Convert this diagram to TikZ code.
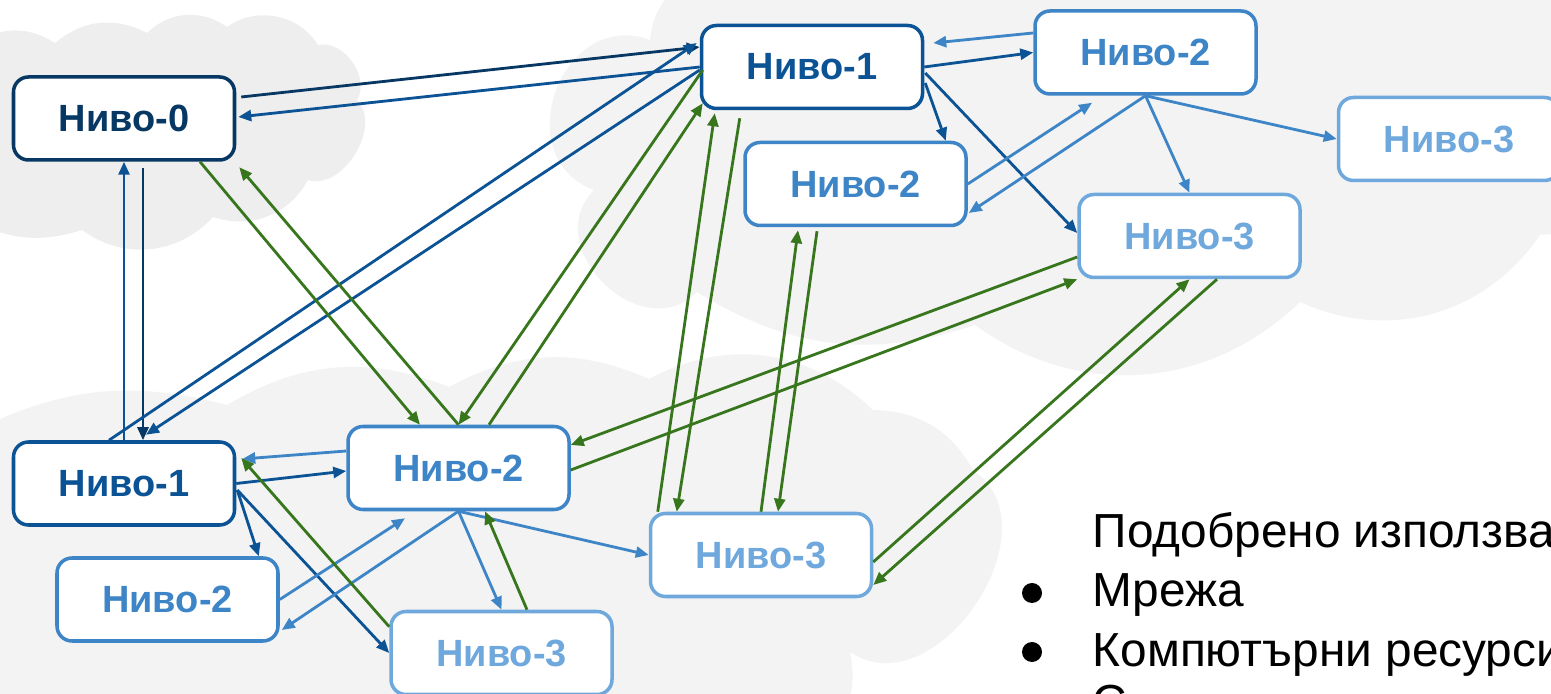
\documentclass[tikz,border=0pt]{standalone}
\usepackage{fontspec}
\setmainfont{Liberation Sans}
\usepackage{tikz}
\usepackage{xcolor}
\usetikzlibrary{shapes,arrows.meta,positioning,calc}

\definecolor{navy}{HTML}{073763}
\definecolor{blueA}{HTML}{0B5394}
\definecolor{blueB}{HTML}{3D85C6}
\definecolor{blueC}{HTML}{6FA8DC}
\definecolor{leaf}{HTML}{38761D}
\definecolor{cloudA}{HTML}{EEEEEE}
\definecolor{cloudB}{HTML}{F3F3F3}

\begin{document}
\begin{tikzpicture}[
          lvl/.style={rectangle, draw, fill=white, line width=1pt, rounded corners=0.15cm, minimum width=2.21cm, minimum height=0.83cm, font=\bfseries\fontsize{10.8}{13}\selectfont},
          lvlzero/.style={lvl, draw=navy, text=navy},
          lvlone/.style={lvl, draw=blueA, text=blueA},
          lvltwo/.style={lvl, draw=blueB, text=blueB},
          lvlthree/.style={lvl, draw=blueC, text=blueC},
          arrow/.style={-{Triangle[length=1.3mm,width=1.1mm]}, line width=0.8pt},
          txt/.style={font=\fontsize{13.6}{16}\selectfont, anchor=base west, inner sep=0},
          dot/.style={circle, fill=black, inner sep=0, minimum size=0.2cm}
        ]
          \useasboundingbox (0,0) rectangle (15.51,-6.94);
          \clip (0,0) rectangle (15.51,-6.94);

          % Clouds
          \fill[cloudA] (-0.2,-0.40) to[bend left=30] (0.55,-0.43) to[bend left=34] (1.47,-0.33)
            to[bend left=40] (2.27,-0.27) to[bend left=47] (3.18,-0.45) to[bend left=67] (3.57,-1.00)
            to[bend left=76] (3.08,-1.80) to[bend left=40] (2.13,-2.17) to[bend left=42] (0.82,-2.30)
            to[bend left=20] (-0.2,-2.25) -- cycle;
          \fill[cloudB] (7.2,0.3) -- (15.8,0.3) -- (15.8,-2.32) -- (15.40,-2.35)
            to[bend left=40] (13.00,-3.02) to[bend left=40] (9.75,-3.25) to[bend left=25] (6.97,-2.92)
            to[bend left=90, looseness=1.4] (5.94,-1.90) to[bend left=90, looseness=1.5] (6.50,-0.40)
            to[bend left=40] (7.2,0.3) -- cycle;
          \fill[cloudB] (-0.2,-4.28) to[bend left=20] (2.27,-4.05) to[bend left=26] (4.49,-3.87)
            to[bend left=26] (6.49,-3.79) to[bend left=36] (8.73,-4.10) to[bend left=30] (9.73,-4.70)
            to[bend left=90, looseness=1.2] (8.50,-6.52) to[bend left=20] (8.40,-7.2) -- (-0.2,-7.2) -- cycle;

          % Levels
          \node[lvlzero] (L0) at (1.24,-1.185) {Ниво-0};
          \node[lvlone] (T1) at (8.12,-0.67) {Ниво-1};
          \node[lvltwo] (T2a) at (11.455,-0.525) {Ниво-2};
          \node[lvltwo] (T2b) at (8.555,-1.84) {Ниво-2};
          \node[lvlthree] (T3a) at (14.49,-1.39) {Ниво-3};
          \node[lvlthree] (T3b) at (11.895,-2.36) {Ниво-3};
          \node[lvlone] (B1) at (1.24,-4.835) {Ниво-1};
          \node[lvltwo] (B2a) at (4.585,-4.68) {Ниво-2};
          \node[lvltwo] (B2b) at (1.675,-5.995) {Ниво-2};
          \node[lvlthree] (B3a) at (5.015,-6.53) {Ниво-3};
          \node[lvlthree] (B3b) at (7.61,-5.55) {Ниво-3};

          % Level 0 links
          \draw[arrow, navy] ([shift={(0.05,0.215)}]L0.east) -- ([yshift=0.2cm]T1.west);
          \draw[arrow, blueA] (T1.west) -- ([shift={(0.02,0.015)}]L0.east);
          \draw[arrow, blueA] (B1.north) -- (L0.south);
          \draw[arrow, navy] ([shift={(0.19,-0.065)}]L0.south) -- ([xshift=0.19cm]B1.north);
          \draw[arrow, blueA] ([xshift=-0.15cm]B1.north) -- ([shift={(-0.03,0.24)}]T1.west);
          \draw[arrow, blueA] ([yshift=-0.03cm]T1.west) -- ([shift={(0.22,0.055)}]B1.north);

          % Upper cluster
          \draw[arrow, blueA] (T1.east) -- (T2a.west);
          \draw[arrow, blueB] ([yshift=0.195cm]T2a.west) -- ([shift={(0.09,0.24)}]T1.east);
          \draw[arrow, blueA] ([shift={(0.01,-0.16)}]T1.east) -- ([xshift=-0.22cm]T2b.north east);
          \draw[arrow, blueA] ([shift={(0.01,-0.06)}]T1.east) -- ([yshift=0.03cm]T3b.west);
          \draw[arrow, blueB] (T2b.east) -- ([shift={(-0.535,-0.07)}]T2a.south);
          \draw[arrow, blueB] (T2a.south) -- ([shift={(0.01,-0.29)}]T2b.east);
          \draw[arrow, blueB] (T2a.south) -- (T3a.west);
          \draw[arrow, blueB] (T2a.south) -- (T3b.north);

          % Lower cluster
          \draw[arrow, blueB] ([yshift=0.17cm]B2a.west) -- ([shift={(0.06,0.245)}]B1.east);
          \draw[arrow, blueA] (B1.east) -- ([yshift=-0.03cm]B2a.west);
          \draw[arrow, blueA] ([shift={(0.01,-0.065)}]B1.east) -- ([xshift=-0.21cm]B2b.north east);
          \draw[arrow, blueA] ([shift={(0.01,-0.065)}]B1.east) -- (B3a.west);
          \draw[arrow, blueB] (B2b.east) -- ([shift={(-0.535,-0.07)}]B2a.south);
          \draw[arrow, blueB] (B2a.south) -- ([shift={(0.02,-0.305)}]B2b.east);
          \draw[arrow, blueB] (B2a.south) -- (B3a.north);
          \draw[arrow, blueB] (B2a.south) -- (B3b.west);
          \draw[arrow, leaf] ([xshift=0.255cm]B3a.north) -- ([xshift=0.265cm]B2a.south);
          \draw[arrow, leaf] ([yshift=-0.17cm]B3a.north west) -- ([shift={(0.05,0.255)}]B1.east);

          % Cross links
          \draw[arrow, leaf] ([xshift=0.76cm]L0.south) -- ([xshift=-0.385cm]B2a.north);
          \draw[arrow, leaf] (B2a.north) -- ([shift={(0.03,-0.055)}]L0.south east);
          \draw[arrow, leaf] ([shift={(0.03,-0.03)}]T1.west) -- (B2a.north);
          \draw[arrow, leaf] ([xshift=0.305cm]B2a.north) -- ([shift={(0.03,0.07)}]T1.south west);
          \draw[arrow, leaf] ([xshift=0.09cm]B3b.north west) -- ([shift={(0.15,-0.03)}]T1.south west);
          \draw[arrow, leaf] ([shift={(0.40,-0.08)}]T1.south west) -- ([xshift=0.28cm]B3b.north west);
          \draw[arrow, leaf] (B3b.north) -- ([shift={(-0.575,-0.03)}]T2b.south);
          \draw[arrow, leaf] ([shift={(-0.385,-0.04)}]T2b.south) -- ([xshift=0.17cm]B3b.north);
          \draw[arrow, leaf] ([yshift=-0.21cm]T3b.west) -- ([yshift=0.23cm]B2a.east);
          \draw[arrow, leaf] ([yshift=-0.02cm]B2a.east) -- (T3b.south west);
          \draw[arrow, leaf] ([yshift=-0.07cm]B3b.east) -- (T3b.south);
          \draw[arrow, leaf] ([xshift=0.275cm]T3b.south) -- ([yshift=-0.30cm]B3b.east);

          % Text
          \node[txt] (head) at (10.92,-5.48) {Подобрено използва};
          \node[dot] (dot1) at (10.32,-5.93) {};
          \node[txt] (item1) at (10.92,-6.07) {Мрежа};
          \node[dot] (dot2) at (10.32,-6.52) {};
          \node[txt] (item2) at (10.92,-6.66) {Компютърни ресурси};
          \node[txt] (item3) at (10.92,-7.18) {С};

        \end{tikzpicture}
\end{document}
